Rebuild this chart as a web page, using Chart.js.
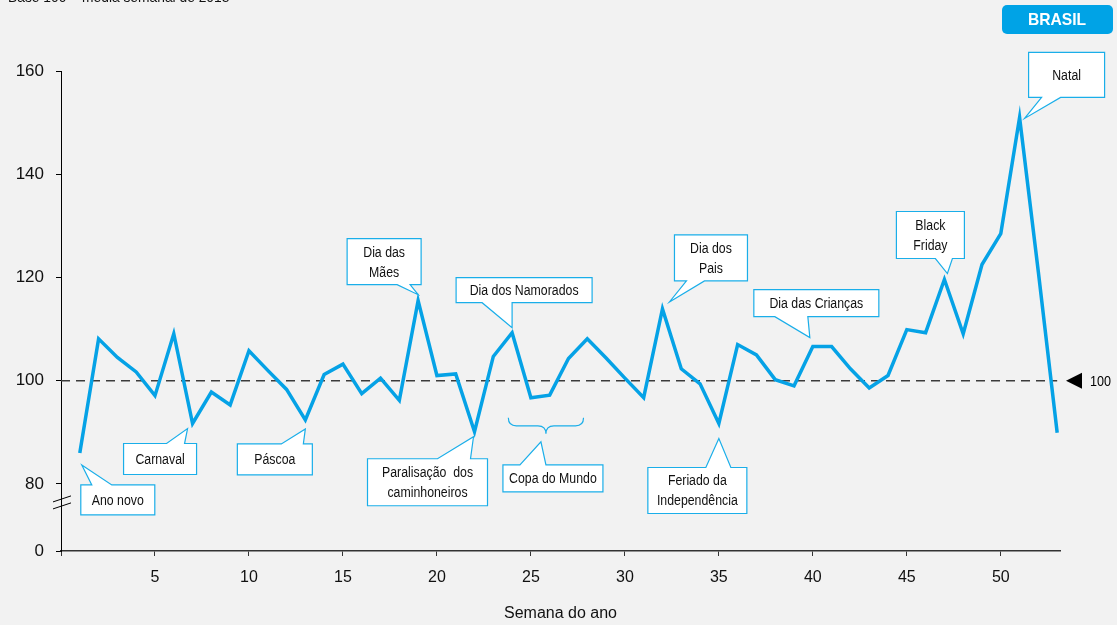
<!DOCTYPE html>
<html>
<head>
<meta charset="utf-8">
<script src="https://cdn.jsdelivr.net/npm/chart.js@4.4.0/dist/chart.umd.min.js"></script>
<style>
html, body { margin: 0; padding: 0; background: #f2f2f2; }
#wrap { position: relative; width: 1117px; height: 625px; }
</style>
</head>
<body>
<div id="wrap"><canvas id="chart" width="1117" height="625"></canvas></div>
<script>
// semanas 1..53 de 2018
const weeks = [1,2,3,4,5,6,7,8,9,10,11,12,13,14,15,16,17,18,19,20,21,22,23,24,25,26,27,
  28,29,30,31,32,33,34,35,36,37,38,39,40,41,42,43,44,45,46,47,48,49,50,51,52,53];
const indexValues = [86.0,108.1,104.5,101.7,97.1,109.1,91.7,97.8,95.3,105.8,102.0,98.3,92.4,
  101.2,103.2,97.5,100.5,96.2,115.5,101.0,101.3,90.1,104.7,109.3,96.7,97.2,104.3,108.1,
  104.4,100.5,96.7,113.9,102.3,99.4,91.7,107.0,105.0,100.2,99.0,106.6,106.6,102.3,98.6,
  101.0,109.9,109.3,119.6,109.1,122.5,128.5,151.0,121.0,89.9];
const yTickValues = [80, 100, 120, 140, 160];
const xTickValues = [0, 5, 10, 15, 20, 25, 30, 35, 40, 45, 50];
const yMin = 67;      // posição do "0" (eixo quebrado)
const yMax = 160;
const refValue = 100;

const FONT = "'Liberation Sans', Arial, sans-serif";
const BLUE = '#05a2e6';
const CALLOUT = '#1aaee9';

// balões: semana, texto, ponta [dx,dy], caixa [bx,by,w,h] relativos ao ponto
const callouts = [
  { week: 1,  lines: ['Ano novo'], tip: [2, 12], box: [1, 32, 74, 30], side: 'top', base: [11, 31] },
  { week: 7,  lines: ['Carnaval'], tip: [-5, 5], box: [-69, 20, 73, 31], side: 'top', base: [43, 61] },
  { week: 13, lines: ['Páscoa'], tip: [0, 9], box: [-68, 24, 75, 31], side: 'top', base: [44, 66] },
  { week: 19, lines: ['Dia das', 'Mães'], tip: [0, -6], box: [-71, -62, 74, 46], side: 'bottom', base: [50, 63] },
  { week: 24, lines: ['Dia dos Namorados'], tip: [0, -5], box: [-56, -55, 136, 25], side: 'bottom', base: [26, 56] },
  { week: 22, lines: ['Paralisação  dos', 'caminhoneiros'], tip: [-1, 5], box: [-107, 27, 120, 47], side: 'top', base: [70, 103] },
  { week: 32, lines: ['Dia dos', 'Pais'], tip: [7, -7], box: [12, -74, 73, 46], side: 'bottom', base: [12, 30] },
  { week: 35, lines: ['Feriado da', 'Independência'], tip: [0, 15], box: [-71, 44, 99, 46], side: 'top', base: [58, 83] },
  { week: 40, lines: ['Dia das Crianças'], tip: [-3, -9], box: [-59, -57, 125, 27], side: 'bottom', base: [21, 54] },
  { week: 47, lines: ['Black', 'Friday'], tip: [3, -6], box: [-48, -68, 68, 47], side: 'bottom', base: [39, 56] },
  { week: 51, lines: ['Natal'], tip: [5, 1], box: [9, -65, 76, 45], side: 'bottom', base: [13, 32] }
];
const copaRange = [23.8, 27.8];
const copaLevel = 92.8;

function narrowText(ctx, text, x, y, sx) {
  ctx.save();
  ctx.translate(x, y);
  ctx.scale(sx, 1);
  ctx.fillText(text, 0, 0);
  ctx.restore();
}

function drawCallout(ctx, px, py, c) {
  const tx = px + c.tip[0], ty = py + c.tip[1];
  const bx = px + c.box[0], by = py + c.box[1], w = c.box[2], h = c.box[3];
  ctx.beginPath();
  if (c.side === 'top') {
    ctx.moveTo(bx, by);
    ctx.lineTo(bx + c.base[0], by);
    ctx.lineTo(tx, ty);
    ctx.lineTo(bx + c.base[1], by);
    ctx.lineTo(bx + w, by);
    ctx.lineTo(bx + w, by + h);
    ctx.lineTo(bx, by + h);
  } else {
    ctx.moveTo(bx, by);
    ctx.lineTo(bx + w, by);
    ctx.lineTo(bx + w, by + h);
    ctx.lineTo(bx + c.base[1], by + h);
    ctx.lineTo(tx, ty);
    ctx.lineTo(bx + c.base[0], by + h);
    ctx.lineTo(bx, by + h);
  }
  ctx.closePath();
  ctx.fillStyle = '#ffffff';
  ctx.fill();
  ctx.strokeStyle = CALLOUT;
  ctx.lineWidth = 1.2;
  ctx.stroke();

  ctx.fillStyle = '#111';
  ctx.font = '14px ' + FONT;
  ctx.textAlign = 'center';
  ctx.textBaseline = 'middle';
  const lh = 20;
  const cy = by + h / 2 - (c.lines.length - 1) * lh / 2;
  c.lines.forEach((t, i) => narrowText(ctx, t, bx + w / 2, cy + i * lh + 1, 0.88));
}

const overlayPlugin = {
  id: 'overlay',
  beforeDatasetsDraw(chart) {
    const { ctx, scales: { x, y } } = chart;
    const y100 = y.getPixelForValue(refValue);
    ctx.save();
    ctx.strokeStyle = '#3c3c3c';
    ctx.lineWidth = 1.5;
    ctx.setLineDash([9, 6]);
    ctx.beginPath();
    ctx.moveTo(x.left, y100);
    ctx.lineTo(x.getPixelForValue(53), y100);
    ctx.stroke();
    ctx.restore();
  },
  afterDraw(chart) {
    const { ctx, scales: { x, y } } = chart;
    ctx.save();

    // título (cortado no topo)
    ctx.fillStyle = '#111';
    ctx.font = '15px ' + FONT;
    ctx.textAlign = 'left';
    ctx.textBaseline = 'alphabetic';
    narrowText(ctx, 'Base 100 = média semanal de 2018', 8, 2, 0.92);

    // selo BRASIL
    ctx.fillStyle = '#00a3e6';
    ctx.beginPath();
    ctx.roundRect(1002, 5, 111, 29, 5);
    ctx.fill();
    ctx.fillStyle = '#fff';
    ctx.font = 'bold 17px ' + FONT;
    ctx.textAlign = 'center';
    ctx.textBaseline = 'middle';
    narrowText(ctx, 'BRASIL', 1057, 20, 0.92);

    // quebra do eixo
    const yb = y.getPixelForValue(80);
    ctx.strokeStyle = '#000';
    ctx.lineWidth = 1;
    [15, 22].forEach(off => {
      ctx.beginPath();
      ctx.moveTo(x.left - 8, yb + off + 3);
      ctx.lineTo(x.left + 10, yb + off - 3);
      ctx.stroke();
    });

    // marcador 100
    const y100 = y.getPixelForValue(refValue);
    ctx.fillStyle = '#000';
    ctx.beginPath();
    ctx.moveTo(1066, y100);
    ctx.lineTo(1082, y100 - 8);
    ctx.lineTo(1082, y100 + 8);
    ctx.closePath();
    ctx.fill();
    ctx.font = '14px ' + FONT;
    ctx.textAlign = 'left';
    ctx.textBaseline = 'middle';
    narrowText(ctx, '100', 1090, y100 + 1, 0.9);

    // balões
    callouts.forEach(c => {
      const i = weeks.indexOf(c.week);
      drawCallout(ctx, x.getPixelForValue(c.week), y.getPixelForValue(indexValues[i]), c);
    });

    // Copa do Mundo (chave)
    const x1 = x.getPixelForValue(copaRange[0]), x2 = x.getPixelForValue(copaRange[1]);
    const y0 = y.getPixelForValue(copaLevel), r = 8;
    const xm = (x1 + x2) / 2;
    ctx.strokeStyle = CALLOUT;
    ctx.lineWidth = 1.2;
    ctx.beginPath();
    ctx.moveTo(x1, y0);
    ctx.quadraticCurveTo(x1, y0 + r, x1 + r, y0 + r);
    ctx.lineTo(xm - r, y0 + r);
    ctx.quadraticCurveTo(xm, y0 + r, xm, y0 + 2 * r);
    ctx.quadraticCurveTo(xm, y0 + r, xm + r, y0 + r);
    ctx.lineTo(x2 - r, y0 + r);
    ctx.quadraticCurveTo(x2, y0 + r, x2, y0);
    ctx.stroke();
    drawCallout(ctx, xm, y0 + 2 * r, {
      lines: ['Copa do Mundo'], tip: [-5, 8], box: [-43, 31, 100, 27], side: 'top', base: [17, 43]
    });

    ctx.restore();
  }
};

const ctx = document.getElementById('chart').getContext('2d');
new Chart(ctx, {
  type: 'line',
  data: {
    datasets: [{
      data: weeks.map((w, i) => ({ x: w, y: indexValues[i] })),
      borderColor: BLUE,
      borderWidth: 3.5,
      pointRadius: 0,
      tension: 0,
      fill: false,
      clip: false
    }]
  },
  options: {
    responsive: false,
    animation: false,
    devicePixelRatio: 1,
    layout: { padding: { top: 71, right: 57, left: 0, bottom: 0 } },
    plugins: { legend: { display: false }, tooltip: { enabled: false } },
    scales: {
      x: {
        type: 'linear',
        min: 0,
        max: 53.15,
        afterBuildTicks: s => { s.ticks = xTickValues.map(v => ({ value: v })); },
        afterFit: s => { s.height = 74; },
        border: { display: true, color: '#333', width: 1.5 },
        grid: { drawOnChartArea: false, drawTicks: true, tickLength: 5, color: '#333' },
        ticks: {
          color: '#111',
          font: { family: FONT, size: 16 },
          padding: 12,
          maxRotation: 0,
          callback: v => v === 0 ? '' : v
        },
        title: {
          display: true,
          text: 'Semana do ano',
          color: '#111',
          font: { family: FONT, size: 16 },
          padding: { top: 0, bottom: 2 }
        }
      },
      y: {
        min: yMin,
        max: yMax,
        afterBuildTicks: s => { s.ticks = [yMin].concat(yTickValues).map(v => ({ value: v })); },
        afterFit: s => { s.width = 61; },
        border: { display: true, color: '#000', width: 1 },
        grid: { drawOnChartArea: false, drawTicks: true, tickLength: 5, color: '#000' },
        ticks: {
          color: '#111',
          font: { family: FONT, size: 17 },
          padding: 12,
          callback: v => v === yMin ? '0' : v
        }
      }
    }
  },
  plugins: [overlayPlugin]
});
</script>
</body>
</html>
